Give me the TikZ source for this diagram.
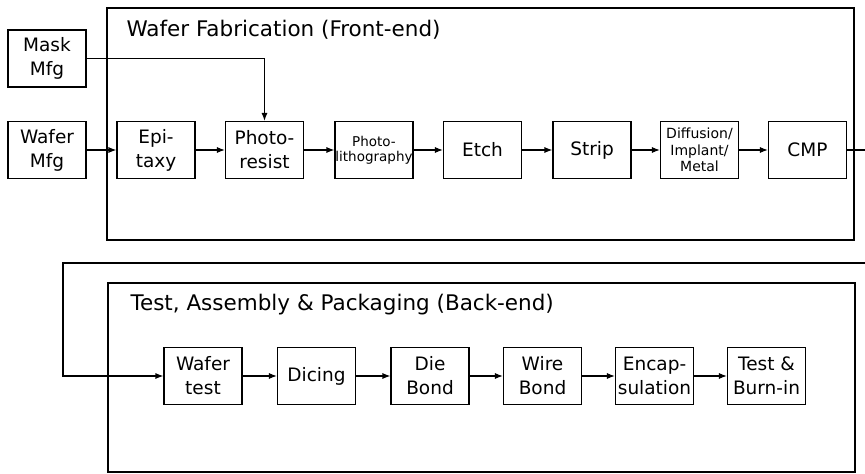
\documentclass[tikz,border=0pt]{standalone}
\usepackage{fontspec}
\setmainfont{DejaVu Sans}
\usetikzlibrary{arrows.meta}
\begin{document}
\begin{tikzpicture}[x=1pt,y=-1pt,
  line width=1.1pt,
  stepbox/.style={draw, line width=1.1pt, minimum width=78pt, minimum height=57pt, inner sep=0pt, align=center, font=\fontsize{18.5}{24}\selectfont},
  smallbox/.style={stepbox, font=\fontsize{13.5}{15}\selectfont},
  tinybox/.style={stepbox, font=\fontsize{14}{16.5}\selectfont},
  frame/.style={draw, line width=1.1pt},
  title/.style={anchor=west, inner sep=0pt, font=\fontsize{21.5}{24}\selectfont},
  arr/.style={-{Latex[length=8pt,width=6pt]}, line width=1.1pt}]
\useasboundingbox (0,0) rectangle (865,474);
% frames
\draw[frame] (107,8) rectangle (854,240);
\draw[frame] (108,283) rectangle (855,472);
\node[title] (t1) at (126,30) {Wafer Fabrication (Front-end)};
\node[title] (t2) at (130,305) {Test, Assembly \& Packaging (Back-end)};
% front-end nodes
\node[stepbox] (mask) at (47,58.5) {Mask\\Mfg};
\node[stepbox] (wafer) at (47,150) {Wafer\\Mfg};
\node[stepbox] (epi) at (156,150) {Epi-\\taxy};
\node[stepbox] (resist) at (264.5,150) {Photo-\\resist};
\node[smallbox] (litho) at (374,150) {Photo-\\lithography};
\node[stepbox] (etch) at (482.5,150) {Etch};
\node[stepbox] (strip) at (592,150) {Strip};
\node[tinybox] (diff) at (699.5,150) {Diffusion/\\Implant/\\Metal};
\node[stepbox] (cmp) at (807.5,150) {CMP};
% back-end nodes
\node[stepbox] (wtest) at (203,376) {Wafer\\test};
\node[stepbox] (dicing) at (316.5,376) {Dicing};
\node[stepbox] (die) at (430,376) {Die\\Bond};
\node[stepbox] (wire) at (542.5,376) {Wire\\Bond};
\node[stepbox] (encap) at (654.5,376) {Encap-\\sulation};
\node[stepbox] (tb) at (766.5,376) {Test \&\\Burn-in};
% connectors
\draw[arr] (mask.east) -| (resist.north);
\draw[arr] (wafer) -- (epi);
\draw[arr] (epi) -- (resist);
\draw[arr] (resist) -- (litho);
\draw[arr] (litho) -- (etch);
\draw[arr] (etch) -- (strip);
\draw[arr] (strip) -- (diff);
\draw[arr] (diff) -- (cmp);
\coordinate (r1) at (865,150);
\coordinate (r2) at (865,263);
\coordinate (l2) at (63,263);
\draw (cmp.east) -- (r1);
\draw[arr] (r2) -- (l2) |- (wtest.west);
\draw[arr] (wtest) -- (dicing);
\draw[arr] (dicing) -- (die);
\draw[arr] (die) -- (wire);
\draw[arr] (wire) -- (encap);
\draw[arr] (encap) -- (tb);
\end{tikzpicture}
\end{document}
